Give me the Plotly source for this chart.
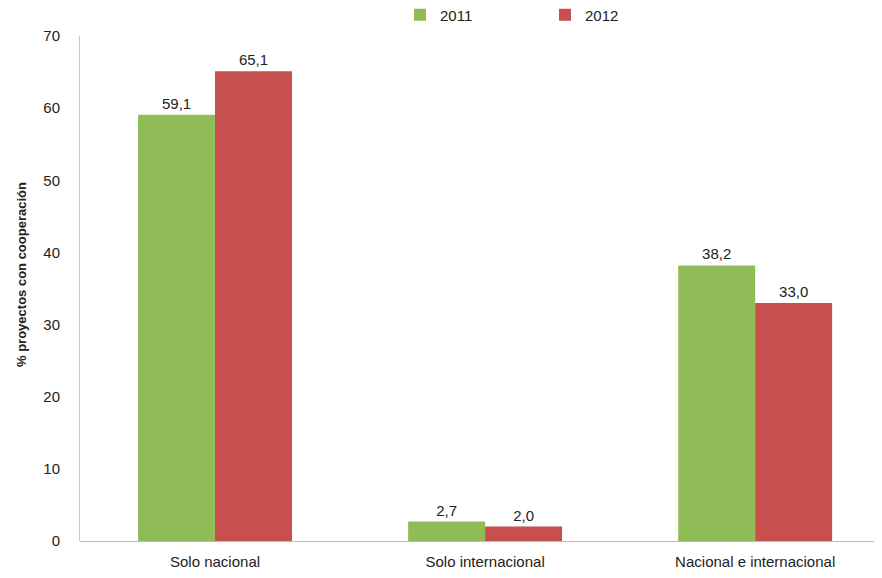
import plotly.graph_objects as go

categories = ["Solo nacional", "Solo internacional", "Nacional e internacional"]
vals_2011 = [59.1, 2.7, 38.2]
vals_2012 = [65.1, 2.0, 33.0]
series_names = ["2011", "2012"]
y_title = "% proyectos con cooperación"

FONT = "Liberation Sans Narrow, Arial Narrow, Liberation Sans, sans-serif"

def fmt(v):
    return f"{v:.1f}".replace(".", ",")

fig = go.Figure()
fig.add_trace(go.Bar(name=series_names[0], x=categories, y=vals_2011,
                     marker=dict(color="#8FBC57", line=dict(width=0)),
                     text=[fmt(v) for v in vals_2011], textposition="outside",
                     textfont=dict(size=15, color="#222222"), cliponaxis=False))
fig.add_trace(go.Bar(name=series_names[1], x=categories, y=vals_2012,
                     marker=dict(color="#C84F4F", line=dict(width=0)),
                     text=[fmt(v) for v in vals_2012], textposition="outside",
                     textfont=dict(size=15, color="#222222"), cliponaxis=False))

fig.update_layout(
    width=866, height=562,
    margin=dict(l=72, r=0, t=28, b=29, autoexpand=False),
    paper_bgcolor="white", plot_bgcolor="white",
    barmode="group", bargap=0.43, bargroupgap=0,
    font=dict(family=FONT, size=15, color="#222222"),
    showlegend=True,
    legend=dict(orientation="h", x=(392 - 72) / 794, y=1 + 21 / 505,
                xanchor="left", yanchor="middle",
                font=dict(size=15), itemwidth=30, traceorder="normal",
                entrywidth=100, entrywidthmode="pixels"),
    xaxis=dict(range=[-0.5, 2.44], showline=False, ticks="", automargin=False,
               ticklabelstandoff=10,
               tickfont=dict(size=15), showgrid=False, zeroline=False),
    yaxis=dict(range=[0, 70], dtick=10, showgrid=False, zeroline=True,
               zerolinecolor="#BBBBBB", zerolinewidth=1, automargin=False,
               showline=True, linecolor="#C8C8C8", linewidth=1,
               ticks="", ticklabelstandoff=16,
               tickfont=dict(size=15)),
    annotations=[dict(text="<b>" + y_title + "</b>", textangle=-90,
                      xref="paper", yref="paper",
                      x=(13 - 72) / 794, y=(533 - 267) / 505,
                      xanchor="center", yanchor="middle", showarrow=False,
                      font=dict(size=13, family=FONT, color="#222222"))],
)

fig.write_html("out.html")
